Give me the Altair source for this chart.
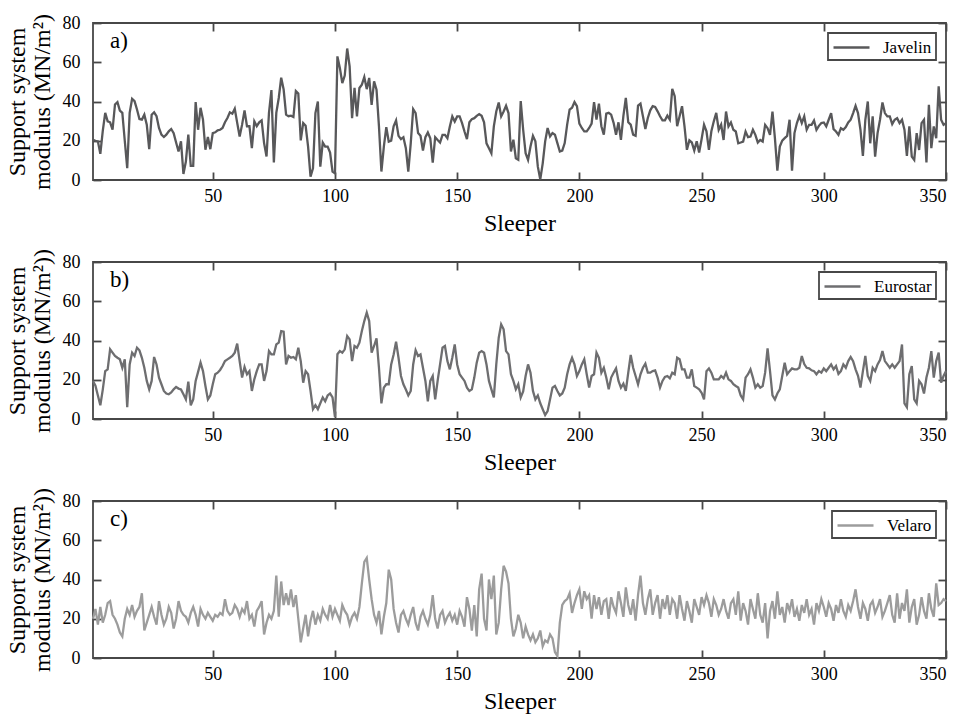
import altair as alt
import numpy as np
import pandas as pd

FONT = "Liberation Serif, Times New Roman, serif"
FRAME = "#474747"
W, H = 853, 157

X_TICKS = [50, 100, 150, 200, 250, 300, 350]
Y_TICKS = [0, 20, 40, 60, 80]
TRAINS = ["Javelin", "Eurostar", "Velaro"]
COLORS = ["#58585a", "#6e6e70", "#9c9c9c"]
PANEL_LABELS = ["a)", "b)", "c)"]
Y_TITLES = [
    ["Support system", "modulus (MN/m\u00b2)"],
    ["Support system", "modulus (MN/m\u00b2))"],
    ["Support system", "modulus (MN/m\u00b2))"],
]

javelin = [
    20.5, 20.0, 19.7, 13.3, 25.0, 34.2, 29.9, 29.4, 25.6, 38.5,
    39.7, 35.4, 34.2, 20.0, 6.0, 34.2, 41.4, 40.2, 35.9, 31.1,
    30.8, 33.3, 28.2, 15.7, 33.3, 34.5, 32.5, 26.5, 23.1, 21.9,
    23.1, 24.8, 26.0, 23.9, 19.1, 14.5, 19.7, 3.1, 9.4, 23.1,
    7.2, 7.2, 39.7, 25.6, 36.8, 30.8, 15.4, 21.9, 15.7, 23.9,
    24.3, 25.3, 25.6, 26.5, 29.4, 31.6, 34.5, 33.8, 36.3, 29.1,
    22.2, 28.2, 35.5, 27.4, 27.4, 16.2, 29.9, 27.4, 29.4, 30.4,
    18.8, 12.0, 34.2, 45.8, 8.9, 34.2, 41.8, 52.1, 46.1, 33.3,
    32.5, 32.8, 32.1, 45.3, 44.1, 20.2,
    29.0, 27.6, 17.0, 1.7, 6.0, 34.1, 40.0, 6.8, 19.1, 17.0,
    17.0, 14.0, 4.3, 3.4, 63.0, 57.1, 49.4, 53.2, 67.0, 57.9,
    31.5, 46.9, 32.4, 46.9, 48.6, 52.5, 46.3, 52.0, 38.3, 50.3,
    46.0, 27.3, 4.3, 17.0, 26.9, 19.6, 20.1, 27.3, 30.3, 22.5,
    20.8, 21.8, 16.2, 4.3, 18.7, 36.1, 34.1, 23.9, 22.5, 15.0,
    21.8, 24.2, 21.3, 8.9, 21.8, 20.4, 19.1, 23.0, 23.0, 21.3,
    27.3, 32.4, 29.8, 32.4, 32.4, 29.0, 24.7, 20.8, 29.4, 31.0,
    31.5, 32.7, 33.6, 32.7, 29.4, 18.7, 16.2, 13.6, 27.3, 34.9,
    39.5, 32.4, 34.9, 37.8,
    34.1, 14.5, 20.5, 11.1, 10.3, 40.2, 25.6, 13.7, 10.3, 17.1,
    22.5, 19.7, 6.8, 0.3, 8.5, 19.7, 26.5, 22.2, 23.9, 23.1,
    18.8, 14.5, 15.0, 18.8, 28.2, 35.9, 36.8, 39.7, 37.6, 28.7,
    26.5, 24.8, 24.8, 26.5, 28.7, 39.7, 30.8, 38.9, 27.4, 23.1,
    33.8, 34.2, 33.3, 29.1, 23.1, 29.4, 20.5, 32.5, 41.8, 29.4,
    28.2, 23.1, 22.5, 37.9, 38.9, 32.5, 26.0, 31.6, 35.5, 37.6,
    37.2, 35.0, 32.5, 30.4, 30.4, 32.8, 30.8, 46.4, 42.7, 27.4,
    32.5, 37.6, 27.4, 15.4, 20.2, 19.1, 15.0, 19.7, 14.0, 20.8,
    28.2, 24.8, 15.4, 24.8, 29.9, 34.2, 25.6, 28.2,
    20.4, 34.9, 27.3, 29.3, 25.6, 24.7, 18.7, 19.1, 19.6, 24.7,
    21.8, 22.1, 25.6, 23.0, 19.1, 20.4, 19.6, 28.1, 26.4, 23.0,
    34.9, 21.3, 4.8, 17.0, 20.1, 21.3, 22.5, 30.7, 4.8, 23.9,
    29.0, 32.7, 29.0, 32.4, 25.6, 28.1, 28.1, 30.3, 25.6, 27.6,
    29.0, 29.3, 27.3, 30.7, 34.1, 25.9, 24.7, 23.0, 26.4, 25.6,
    27.0, 29.3, 30.7, 34.1, 37.8, 34.1, 25.6, 12.3, 30.7, 40.0,
    18.7, 32.4, 11.9, 23.9, 30.7, 39.5, 34.1, 32.4, 32.4, 28.5,
    30.7, 31.5, 29.0, 30.7, 25.6, 12.3, 27.3, 11.9, 10.2, 23.9,
    15.3, 29.0, 30.7, 8.9, 38.3, 16.2, 27.3, 21.3, 47.7, 30.7,
    28.1, 29.0,
]

eurostar = [
    19.4, 17, 12, 7, 15, 24.4, 25.3, 35.5, 33.8, 32.1,
    31.2, 30.4, 26.1, 30.4, 6, 27.8, 33.8, 32.1, 36.3, 35.0,
    31.2, 26.1, 19.4, 15.1, 19.4, 31.6, 27.8, 21.1, 17.7, 14.3,
    13, 12.6, 13.5, 15.1, 16.3, 15.5, 15.1, 12.6, 10, 19.0,
    7, 10, 19.4, 24, 28.7, 24.4, 16.8, 10, 12, 17.7,
    22.8, 23.6, 25, 27.0, 29.5, 30.4, 31.2, 32.1, 33.8, 38.4,
    29.5, 21.1, 26.5, 22.8, 24.4, 14.3, 20.2, 24.4, 27.8, 27.8,
    19.4, 24.4, 34.6, 32.9, 32.9, 38.0, 38.9, 44.8, 44.5, 27.8,
    32.1, 31.2, 31.6, 30.4, 36.3, 29.5, 18.5, 24.4, 22.8, 14.3,
    5, 7, 5, 8, 11, 9, 12, 13, 11, 1,
    33, 34.6, 33.8, 35.5, 42.3, 40.6, 29.5, 37.2, 36.3, 38.9,
    44.8, 49.9, 54.2, 49.9, 33.8, 37.2, 41.1, 26.1, 8, 16.0,
    17.7, 17.7, 27.8, 32.9, 39.4, 31.2, 21.9, 17.7, 15, 12,
    14.3, 27.8, 35.0, 32.1, 32.9, 26.1, 19.4, 9, 19.4, 21.9,
    10, 19.4, 27.8, 36.3, 37.2, 29.5, 25.3, 31.2, 38.0, 27.8,
    22.8, 21.1, 19.4, 16.0, 14.3, 15.1, 21.1, 28.7, 33.8, 34.6,
    33.8, 27.8, 19.4, 15.1, 11, 27.8, 41.4, 48.2, 45.7, 34.6,
    32.9, 22.8, 19.4, 15.1, 17.7, 11, 14, 21.9, 27.8, 23.6,
    14.3, 10, 12, 8, 5, 2, 4, 10, 16.0, 16.8,
    14.3, 12, 13, 16.0, 22.8, 27.8, 31.2, 27.8, 21.9, 24.4,
    27.8, 30.4, 22.8, 16.0, 21.9, 22.8, 33.8, 31.2, 23.6, 26.1,
    21.1, 15.1, 21.1, 23.6, 25.8, 19.4, 16.0, 18.0, 14.3, 23.6,
    32.6, 26.1, 21.9, 17.7, 22.8, 26.1, 28.2, 23.6, 23.6, 24.4,
    24.8, 21.1, 16.0, 19.4, 21.4, 21.9, 20.7, 23.6, 22.8, 31.2,
    30.4, 25.3, 25.3, 21.1, 21.1, 25.3, 16.8, 16.0, 15.1, 13.4,
    10, 24.4, 25.8, 23.6, 20.2, 20.2, 20.2, 21.9, 20.7,
    23.6, 20.2, 19.4, 17.7, 16.8, 16.0, 12, 10, 21.1, 22.8,
    25.3, 21.1, 16.0, 17.7, 16.0, 16.8, 23.6, 36.0, 24.4, 12,
    10, 13, 15.1, 21.9, 28.7, 22.8, 24.4, 25.8, 25.3, 25.3,
    26.1, 32.1, 28.0, 26.1, 25.8, 24.8, 24.4, 22.8, 24.4, 23.6,
    25.8, 24.4, 26.1, 27.8, 25.3, 27.0, 23.0, 24.4, 27.8, 26.1,
    29.5, 31.6, 29.5, 25.3, 22.0, 16.0, 24.4, 32.1, 21.9, 19.4,
    26.1, 24.4, 27.8, 30.0, 34.6, 29.5, 27.8, 26.1, 27.8, 26.1,
    27.8, 29.5, 38.0, 8, 6, 22.8, 27.0, 10, 8, 19.4,
    17.7, 13, 21.1, 26.1, 34.6, 21.1, 29.5, 33.8, 18.5, 21.9,
    24.4,
]

velaro = [
    20, 25, 17, 26, 18, 22, 28, 29, 22, 20,
    17, 13, 11, 20, 25, 22, 27, 21, 24, 26,
    33, 14, 18, 22, 26, 21, 17, 29, 22, 17,
    20, 26, 23, 15, 20, 29, 24, 22, 21, 18,
    23, 26, 22, 16, 25, 22, 20, 23, 21, 19,
    22, 21, 23, 22, 30, 24, 22, 23, 27, 25,
    21, 25, 23, 29, 20, 22, 16, 24, 26, 29,
    12, 18, 22, 20, 24, 42, 21, 39, 27, 33,
    27, 35, 26, 32, 20, 8, 15, 22, 11, 19,
    24, 17, 22, 19, 25, 22, 20, 27, 21, 25,
    22, 19, 27, 24, 22, 17, 21, 23, 20, 26,
    38, 49, 51, 40, 30, 22, 18, 24, 12, 21,
    28, 45, 40, 25, 18, 13, 22, 24, 20, 17,
    22, 26, 18, 14, 21, 24, 20, 17, 22, 32,
    20, 15, 22, 24, 18, 21, 23, 19, 22, 17,
    24, 21, 16, 31, 25, 14, 27, 11, 35, 43,
    20, 14, 40, 30, 42, 12, 18, 35, 47, 44,
    38, 20, 11, 15, 22, 18, 10, 16, 12, 9,
    12, 8, 10, 14, 6, 9, 8, 12, 10, 3,
    1, 18, 27, 29, 30, 33, 23, 28, 32, 35,
    25, 34, 30, 32, 20, 32, 25, 31, 22, 29,
    30, 20, 31, 26, 23, 34, 28, 21, 36, 27,
    22, 30, 19, 32, 42, 28, 22, 30, 35, 22,
    28, 32, 20, 30, 25, 32, 22, 30, 28, 20,
    32, 25, 19, 29, 24, 18, 30, 26, 22, 31,
    27, 32, 28, 21, 30, 27, 22, 25, 30, 24,
    20, 28, 30, 22, 34, 19, 28, 24, 17, 30,
    25, 20, 33, 22, 18, 28, 10, 24, 29, 20,
    34, 22, 26, 18, 28, 24, 30, 21, 25, 19,
    27, 23, 30, 22, 25, 17, 28, 24, 30, 26,
    21, 28, 25, 19, 27, 23, 30, 24, 21, 27,
    24, 29, 35, 26, 20, 28, 25, 19, 27, 29,
    23, 26, 30, 21, 24, 28, 32, 22, 18, 33,
    20, 28, 24, 35, 18, 26, 30, 17, 22, 31,
    24, 20, 33, 25, 21, 38, 27, 28, 30, 29,
]

SERIES = [javelin, eurostar, velaro]


def panel(vals, name, color, label, ytitle):
    df = pd.DataFrame({
        "sleeper": np.arange(1, len(vals) + 1),
        "value": vals,
        "train": [name] * len(vals),
    })
    xs = alt.Scale(domain=[1, 350], nice=False, zero=False)
    ys = alt.Scale(domain=[0, 80], nice=False, zero=False)
    base = alt.Chart(df)
    line = base.mark_line(strokeWidth=2.3).encode(
        x=alt.X("sleeper:Q", scale=xs, axis=alt.Axis(
            values=X_TICKS, orient="bottom", offset=-8, tickSize=8,
            domain=False, grid=False, labelPadding=7, format="d",
            labelFont=FONT, labelFontSize=18, labelColor="black",
            title="Sleeper", titleFont=FONT, titleFontSize=24,
            titleFontWeight="normal", titleColor="black", titlePadding=6)),
        y=alt.Y("value:Q", scale=ys, axis=alt.Axis(
            values=Y_TICKS, orient="left", offset=-8, tickSize=8,
            domain=False, grid=False, labelPadding=13, format="d",
            labelFont=FONT, labelFontSize=18, labelColor="black",
            title=ytitle, titleFont=FONT, titleFontSize=24,
            titleFontWeight="normal", titleColor="black",
            titleLineHeight=25, titlePadding=8)),
        color=alt.Color("train:N",
                        scale=alt.Scale(domain=[name], range=[color]),
                        legend=alt.Legend(title=None)),
    )
    ghost = base.mark_line(strokeOpacity=0).encode(
        x=alt.X("sleeper:Q", scale=xs, axis=alt.Axis(
            values=X_TICKS, orient="top", offset=-8, tickSize=8,
            domain=False, grid=False, labels=False, title="")),
        y=alt.Y("value:Q", scale=ys, axis=alt.Axis(
            values=Y_TICKS, orient="right", offset=-8, tickSize=8,
            domain=False, grid=False, labels=False, title="")),
    )
    tag = alt.Chart(pd.DataFrame({"lab": [label]})).mark_text(
        align="left", baseline="top", font=FONT, fontSize=23, color="black"
    ).encode(x=alt.value(17), y=alt.value(7), text="lab:N")
    return alt.layer(line, ghost, tag).resolve_axis(
        x="independent", y="independent"
    ).properties(width=W, height=H)


panels = [panel(v, n, c, l, t)
          for v, n, c, l, t in zip(SERIES, TRAINS, COLORS, PANEL_LABELS, Y_TITLES)]

chart = alt.vconcat(*panels, spacing=11).resolve_scale(
    color="independent"
).properties(
    padding={"left": 4, "top": 12, "right": 8, "bottom": 4}
).configure(
    font=FONT
).configure_view(
    stroke=FRAME, strokeWidth=1.8
).configure_axis(
    tickColor=FRAME, tickWidth=1.8,
    labelFont=FONT, labelFontSize=18, labelColor="black",
    titleFont=FONT, titleFontWeight="normal", titleColor="black",
).configure_legend(
    orient="top-right", offset=10, padding=4,
    strokeColor=FRAME, strokeWidth=1.8, fillColor="white",
    symbolType="M-2,0H2", symbolSize=324, symbolStrokeWidth=2.3,
    symbolOffset=9,
    labelFont=FONT, labelFontSize=17, labelColor="black", labelOffset=21,
)

chart.save("out.html", embed_options={"renderer": "svg", "actions": False})
